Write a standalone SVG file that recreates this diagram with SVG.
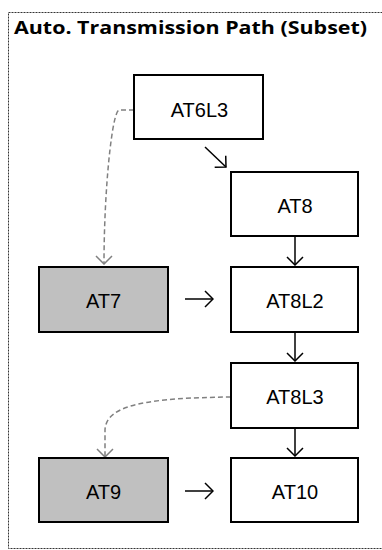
<svg xmlns="http://www.w3.org/2000/svg" width="382" height="550" viewBox="0 0 382 550">
<style>
.box{fill:#fff;stroke:#000;stroke-width:2}
.grey{fill:#c0c0c0}
.lbl{font-family:"Liberation Sans","Open Sans",sans-serif;font-size:20px;fill:#000;text-anchor:middle}
.title{font-family:"Open Sans","Liberation Sans",sans-serif;font-size:17px;font-weight:bold;fill:#000}
.solid{fill:none;stroke:#000;stroke-width:1.5}
.dash{fill:none;stroke:#808080;stroke-width:1.5;stroke-dasharray:5,3}
</style>
<defs>
<marker id="ah" viewBox="0 0 10 20" refX="9" refY="10" markerWidth="10" markerHeight="20" markerUnits="userSpaceOnUse" orient="auto">
<path d="M1,2 L9,10 L1,18" fill="none" stroke="#000" stroke-width="1.5"/>
</marker>
<marker id="ahg" viewBox="0 0 10 20" refX="9" refY="10" markerWidth="10" markerHeight="20" markerUnits="userSpaceOnUse" orient="auto">
<path d="M1,2 L9,10 L1,18" fill="none" stroke="#808080" stroke-width="1.5"/>
</marker>
</defs>
<rect x="0" y="0" width="382" height="550" fill="#fff"/>
<rect x="8.5" y="12.5" width="400" height="536" fill="none" stroke="#333" stroke-width="1" stroke-dasharray="2,1"/>
<text class="title" x="14" y="34" textLength="353" lengthAdjust="spacingAndGlyphs">Auto. Transmission Path (Subset)</text>
<g id="connectors">
<path class="dash" d="M134,110 L119,110 C112,112 104,190 104,264" marker-end="url(#ahg)"/>
<path class="dash" d="M231,397 C150,398 106,404 105,430 L105,457" marker-end="url(#ahg)"/>
<path class="solid" d="M205,147 L226,167" marker-end="url(#ah)"/>
<path class="solid" d="M295,237 L295,265" marker-end="url(#ah)"/>
<path class="solid" d="M295,333 L295,361" marker-end="url(#ah)"/>
<path class="solid" d="M295,429 L295,456" marker-end="url(#ah)"/>
<path class="solid" d="M185,299 L213,299" marker-end="url(#ah)"/>
<path class="solid" d="M185,491 L213,491" marker-end="url(#ah)"/>
</g>
<g id="AT6L3"><rect class="box" x="134" y="75" width="129" height="64"/><text class="lbl" x="199.5" y="117">AT6L3</text></g>
<g id="AT8"><rect class="box" x="231" y="172" width="127" height="64"/><text class="lbl" x="295" y="213">AT8</text></g>
<g id="AT7"><rect class="box grey" x="39" y="267" width="129" height="65"/><text class="lbl" x="103.5" y="307.5">AT7</text></g>
<g id="AT8L2"><rect class="box" x="231" y="267" width="127" height="65"/><text class="lbl" x="295" y="307.5">AT8L2</text></g>
<g id="AT8L3"><rect class="box" x="231" y="363" width="127" height="65"/><text class="lbl" x="295" y="403.5">AT8L3</text></g>
<g id="AT9"><rect class="box grey" x="39" y="458" width="129" height="64"/><text class="lbl" x="103.5" y="498.5">AT9</text></g>
<g id="AT10"><rect class="box" x="231" y="458" width="127" height="64"/><text class="lbl" x="295" y="498.5">AT10</text></g>
</svg>
